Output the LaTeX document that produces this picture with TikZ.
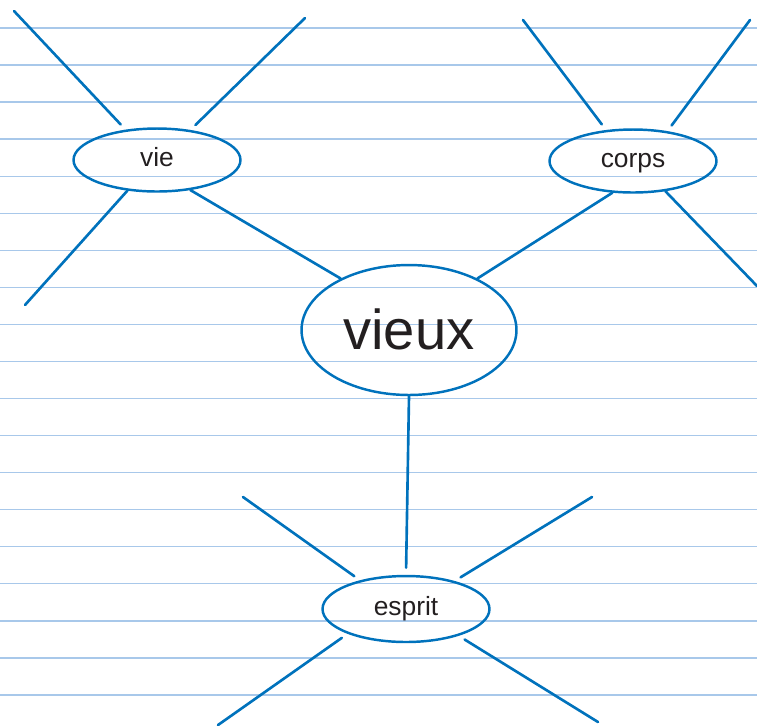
\documentclass[tikz,border=0pt]{standalone}
\usepackage{fontspec}
\setmainfont{Liberation Sans}
\usetikzlibrary{shapes.geometric}
\definecolor{inkblue}{RGB}{0,114,188}
\definecolor{ruleblue}{RGB}{168,200,234}
\definecolor{textgray}{RGB}{35,31,32}
\tikzset{
  ruled/.style={ruleblue,line width=0.8pt},
  bubble/.style={ellipse,draw=inkblue,line width=1.4pt,inner sep=0pt,text=textgray,
    text height=7.8pt,text depth=0pt,
    minimum width=3.34cm,minimum height=1.26cm,font=\fontsize{15}{18}\selectfont},
  spoke/.style={inkblue,line width=1.5pt,line cap=round},
  fade/.style={spoke,shorten >=4pt}
}
\begin{document}
\begin{tikzpicture}[x=0.02cm,y=-0.02cm]
    \useasboundingbox (0,0) rectangle (757,725);
    % ruled paper
    \foreach \i in {0,...,18}
      \draw[ruled] (0,28+37.05*\i) -- (757,28+37.05*\i);

    \node[bubble] (vie)    at (157,160) {vie};
    \node[bubble] (corps)  at (633,161) {corps};
    \node[bubble,minimum width=4.3cm,minimum height=2.6cm,text height=22pt,
          font=\fontsize{32}{36}\selectfont] (vieux) at (409,330) {vieux};
    \node[bubble,minimum height=1.32cm] (esprit) at (406,609) {esprit};

    % free ends of the rays
    \coordinate (vieUL)    at (14,11);
    \coordinate (vieUR)    at (305,18);
    \coordinate (vieLL)    at (25,305);
    \coordinate (corpsUL)  at (523,20);
    \coordinate (corpsUR)  at (750,20);
    \coordinate (corpsLR)  at (757,286);
    \coordinate (espritUL) at (243,497);
    \coordinate (espritUR) at (592,497);
    \coordinate (espritLL) at (218,725);
    \coordinate (espritLR) at (598,722);

    \draw[fade]  (vieUL) -- (vie.136);
    \draw[fade]  (vieUR) -- (vie.42);
    \draw[spoke] (vieLL) -- (vie.226);
    \draw[fade]  (corpsUL) -- (corps.131);
    \draw[fade]  (corpsUR) -- (corps.41);
    \draw[spoke] (corpsLR) -- (corps.-43);
    \draw[fade]  (espritUL) -- (esprit.148);
    \draw[fade]  (espritUR) -- (esprit.30);
    \draw[fade]  (espritLL) -- (esprit.203);
    \draw[fade]  (espritLR) -- (esprit.-27);

    \draw[spoke] (vie.-42) -- (vieux.143);
    \draw[spoke] (corps.237) -- (vieux.37);
    \draw[spoke,shorten >=4pt] (vieux.south) -- (esprit.north);
\end{tikzpicture}
\end{document}
